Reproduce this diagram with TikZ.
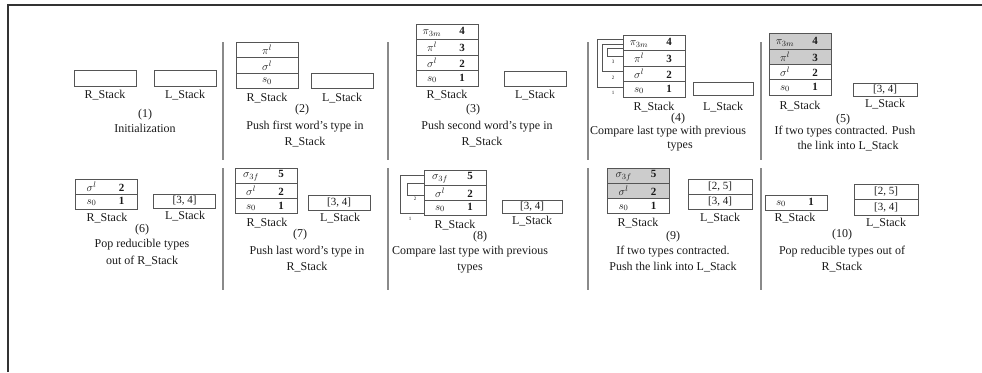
\documentclass[tikz,border=0pt]{standalone}
\usepackage{fontspec}
\setmainfont{Liberation Serif}
\definecolor{linec}{HTML}{555555}
\definecolor{shadec}{HTML}{CCCCCC}
\definecolor{sepc}{HTML}{8A8A8A}
\definecolor{txtc}{HTML}{1A1A1A}
\definecolor{borderc}{HTML}{333333}
\newcommand{\rtxt}[2]{\makebox[30pt]{#1}\makebox[30pt]{\bfseries #2}}
\tikzset{
  cell/.style={draw=linec, line width=1pt, minimum width=62pt, minimum height=15.5pt,
    inner sep=0pt, text=txtc, font=\fontsize{11}{13}\selectfont},
  shaded/.style={cell, fill=shadec},
  lbl/.style={inner sep=0pt, text=txtc, font=\fontsize{12}{14}\selectfont},
  sepline/.style={draw=sepc, line width=1.2pt},
  brk/.style={draw=linec, line width=0.7pt},
  tinylbl/.style={inner sep=0pt, text=txtc, font=\fontsize{5}{6}\selectfont},
  borderline/.style={draw=borderc, line width=1.8pt}
}
\begin{document}
\begin{tikzpicture}[x=1pt,y=-1pt]
\useasboundingbox (0,0) rectangle (982,372);
\draw[borderline] (8,372) -- (8,5) -- (982,5);

% separators
\foreach \sx in {223,388,588,761}{
  \draw[sepline] (\sx,42) -- (\sx,160);
  \draw[sepline] (\sx,168) -- (\sx,290);
}

% Panel 1
\node[cell] (p1r) at (105,78.5) {};
\node[cell] (p1l) at (185,78.5) {};
\node[lbl] (p1rl) at (105,95) {R\_Stack};
\node[lbl] (p1ll) at (185,95) {L\_Stack};
\node[lbl] (p1n) at (145,115) {(1)};
\node[lbl] (p1c) at (145,128) {Initialization};

% Panel 2
\node[cell] (p2r3) at (267,50) {$\pi^{l}$};
\node[cell] (p2r2) at (267,65.5) {$\sigma^{l}$};
\node[cell] (p2r1) at (267,81) {$s_{0}$};
\node[cell] (p2l) at (342.5,81) {};
\node[lbl] (p2rl) at (267,98) {R\_Stack};
\node[lbl] (p2ll) at (342,98) {L\_Stack};
\node[lbl] (p2n) at (302,110) {(2)};
\node[lbl] (p2c1) at (305,127) {Push first word's type in};
\node[lbl] (p2c2) at (305,142) {R\_Stack};

% Panel 3
\node[cell] (p3r4) at (447,31.75) {\rtxt{$\pi_{3m}$}{4}};
\node[cell] (p3r3) at (447,47.25) {\rtxt{$\pi^{l}$}{3}};
\node[cell] (p3r2) at (447,62.75) {\rtxt{$\sigma^{l}$}{2}};
\node[cell] (p3r1) at (447,78.25) {\rtxt{$s_{0}$}{1}};
\node[cell] (p3l) at (535,79) {};
\node[lbl] (p3rl) at (447,95) {R\_Stack};
\node[lbl] (p3ll) at (535,95) {L\_Stack};
\node[lbl] (p3n) at (473,110) {(3)};
\node[lbl] (p3c1) at (487,127) {Push second word's type in};
\node[lbl] (p3c2) at (482,142) {R\_Stack};

% Panel 4
\node[cell] (p4r4) at (654,42.75) {\rtxt{$\pi_{3m}$}{4}};
\node[cell] (p4r3) at (654,58.25) {\rtxt{$\pi^{l}$}{3}};
\node[cell] (p4r2) at (654,73.75) {\rtxt{$\sigma^{l}$}{2}};
\node[cell] (p4r1) at (654,89.25) {\rtxt{$s_{0}$}{1}};
\node[cell, minimum width=60pt, minimum height=13pt] (p4l) at (723,89) {};
\draw[brk] ([yshift=3.75pt]p4r4.west) -- ++(-25pt,0) |- ([yshift=2pt]p4r1.west);
\draw[brk] ([yshift=-1.25pt]p4r4.west) -- ++(-20pt,0) |- ([yshift=2pt]p4r2.west);
\draw[brk] ([yshift=-5.25pt]p4r4.west) -- ++(-15pt,0) |- ([yshift=2pt]p4r3.west);
\node[tinylbl] (p4b3) at (613,62) {3};
\node[tinylbl] (p4b2) at (613,77.5) {2};
\node[tinylbl] (p4b1) at (613,93) {1};
\node[lbl] (p4rl) at (654,107) {R\_Stack};
\node[lbl] (p4ll) at (723,107) {L\_Stack};
\node[lbl] (p4n) at (678,119) {(4)};
\node[lbl] (p4c1) at (668,132) {Compare last type with previous};
\node[lbl] (p4c2) at (680,146) {types};

% Panel 5
\node[shaded, minimum height=15.25pt] (p5r4) at (800,41.6) {\rtxt{$\pi_{3m}$}{4}};
\node[shaded, minimum height=15.25pt] (p5r3) at (800,56.9) {\rtxt{$\pi^{l}$}{3}};
\node[cell, minimum height=15.25pt] (p5r2) at (800,72.1) {\rtxt{$\sigma^{l}$}{2}};
\node[cell, minimum height=15.25pt] (p5r1) at (800,87.4) {\rtxt{$s_{0}$}{1}};
\node[cell, minimum width=64pt, minimum height=13pt, font=\fontsize{11}{13}\selectfont] (p5l) at (885,90) {[3, 4]};
\node[lbl] (p5rl) at (800,106) {R\_Stack};
\node[lbl] (p5ll) at (885,104.5) {L\_Stack};
\node[lbl] (p5n) at (843,120) {(5)};
\node[lbl] (p5c1) at (845,132) {If two types contracted. Push};
\node[lbl] (p5c2) at (848,146) {the link into L\_Stack};

% Panel 6
\node[cell, minimum height=15pt] (p6r2) at (106.5,186.5) {\rtxt{$\sigma^{l}$}{2}};
\node[cell, minimum height=15pt] (p6r1) at (106.5,201.5) {\rtxt{$s_{0}$}{1}};
\node[cell, minimum height=14pt, font=\fontsize{11}{13}\selectfont] (p6l) at (184.5,201) {[3, 4]};
\node[lbl] (p6rl) at (107,218) {R\_Stack};
\node[lbl] (p6ll) at (185,216) {L\_Stack};
\node[lbl] (p6n) at (142,230) {(6)};
\node[lbl] (p6c1) at (142,245) {Pop reducible types};
\node[lbl] (p6c2) at (142,261) {out of R\_Stack};

% Panel 7
\node[cell, minimum height=15.3pt] (p7r3) at (266,175.7) {\rtxt{$\sigma_{3f}$}{5}};
\node[cell, minimum height=15.3pt] (p7r2) at (266,191) {\rtxt{$\sigma^{l}$}{2}};
\node[cell, minimum height=15.3pt] (p7r1) at (266,206.3) {\rtxt{$s_{0}$}{1}};
\node[cell, minimum height=15pt, font=\fontsize{11}{13}\selectfont] (p7l) at (339,202.5) {[3, 4]};
\node[lbl] (p7rl) at (267,223) {R\_Stack};
\node[lbl] (p7ll) at (340,218.5) {L\_Stack};
\node[lbl] (p7n) at (300,235) {(7)};
\node[lbl] (p7c1) at (307,252) {Push last word's type in};
\node[lbl] (p7c2) at (307,267) {R\_Stack};

% Panel 8
\node[cell, minimum height=15pt] (p8r3) at (455,177.5) {\rtxt{$\sigma_{3f}$}{5}};
\node[cell, minimum height=15pt] (p8r2) at (455,192.5) {\rtxt{$\sigma^{l}$}{2}};
\node[cell, minimum height=15pt] (p8r1) at (455,207.5) {\rtxt{$s_{0}$}{1}};
\node[cell, minimum width=60pt, minimum height=13pt, font=\fontsize{11}{13}\selectfont] (p8l) at (532,207) {[3, 4]};
\draw[brk] ([yshift=2.5pt]p8r3.west) -- ++(-23pt,0) |- ([yshift=-5.5pt]p8r1.west);
\draw[brk] ([yshift=-5.5pt]p8r3.west) -- ++(-16pt,0) |- ([yshift=-2.5pt]p8r2.west);
\node[tinylbl] (p8b2) at (415,199) {2};
\node[tinylbl] (p8b1) at (410,219) {1};
\node[lbl] (p8rl) at (455,225) {R\_Stack};
\node[lbl] (p8ll) at (532,221) {L\_Stack};
\node[lbl] (p8n) at (480,237) {(8)};
\node[lbl] (p8c1) at (470,252) {Compare last type with previous};
\node[lbl] (p8c2) at (470,268) {types};

% Panel 9
\node[shaded, minimum height=15.3pt] (p9r3) at (638.5,175.7) {\rtxt{$\sigma_{3f}$}{5}};
\node[shaded, minimum height=15.3pt] (p9r2) at (638.5,191) {\rtxt{$\sigma^{l}$}{2}};
\node[cell, minimum height=15.3pt] (p9r1) at (638.5,206.3) {\rtxt{$s_{0}$}{1}};
\node[cell, minimum width=64pt, minimum height=15pt, font=\fontsize{11}{13}\selectfont] (p9l2) at (720,186.5) {[2, 5]};
\node[cell, minimum width=64pt, minimum height=15pt, font=\fontsize{11}{13}\selectfont] (p9l1) at (720,201.5) {[3, 4]};
\node[lbl] (p9rl) at (638,223) {R\_Stack};
\node[lbl] (p9ll) at (720,218) {L\_Stack};
\node[lbl] (p9n) at (673,237) {(9)};
\node[lbl] (p9c1) at (673,252) {If two types contracted.};
\node[lbl] (p9c2) at (673,267) {Push the link into L\_Stack};

% Panel 10
\node[cell, minimum height=15pt] (p10r1) at (796,202.5) {\rtxt{$s_{0}$}{1}};
\node[cell, minimum width=64pt, minimum height=15.5pt, font=\fontsize{11}{13}\selectfont] (p10l2) at (886,192) {[2, 5]};
\node[cell, minimum width=64pt, minimum height=15.5pt, font=\fontsize{11}{13}\selectfont] (p10l1) at (886,207.5) {[3, 4]};
\node[lbl] (p10rl) at (795,218) {R\_Stack};
\node[lbl] (p10ll) at (886,223) {L\_Stack};
\node[lbl] (p10n) at (842,235) {(10)};
\node[lbl] (p10c1) at (842,252) {Pop reducible types out of};
\node[lbl] (p10c2) at (842,267) {R\_Stack};
\end{tikzpicture}
\end{document}
